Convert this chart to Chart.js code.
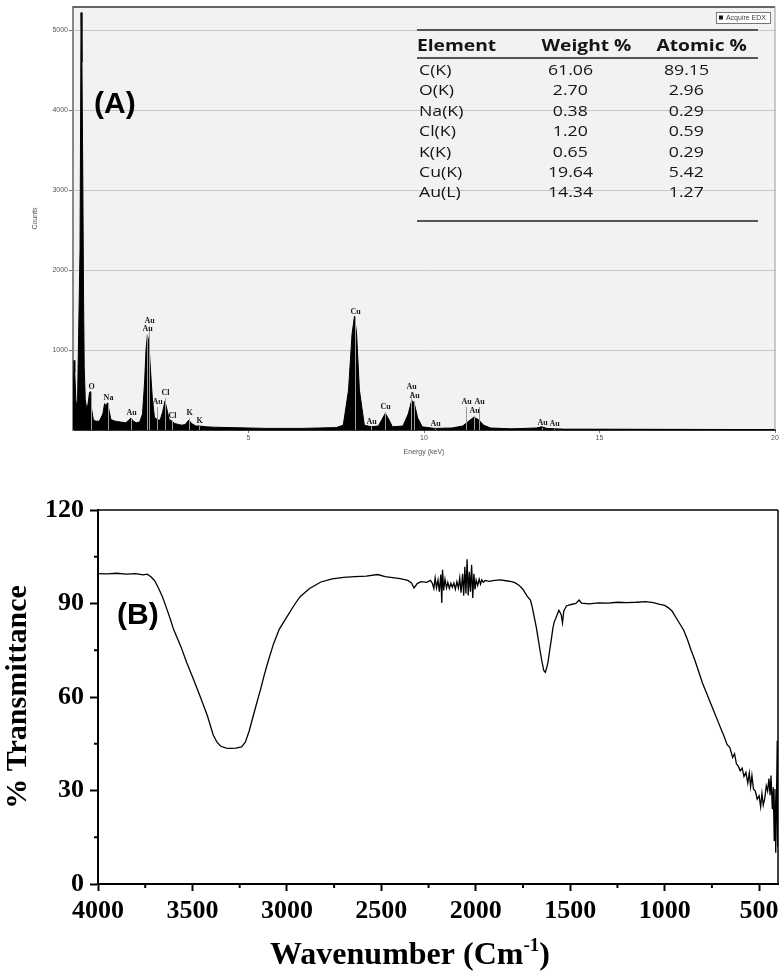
<!DOCTYPE html>
<html>
<head>
<meta charset="utf-8">
<title>EDX and FTIR</title>
<script src="https://cdn.jsdelivr.net/npm/chart.js@4.4.1/dist/chart.umd.min.js"></script>
<style>
    body { margin: 0; background: #fff; }
    #page { position: relative; width: 781px; height: 973px; overflow: hidden; }
    canvas { position: absolute; left: 0; }
    #edxChart { top: 0; }
    #ftirChart { top: 470px; }
    .tag { position: absolute; font: bold 30px 'Liberation Sans', Arial, sans-serif; line-height: 30px; color: #000; }
    #edxTable { position: absolute; left: 417px; top: 29px; width: 341px; height: 189px;
        border-top: 2px solid #555; border-bottom: 2px solid #555; font-family: 'Open Sans', sans-serif; color: #151515; }
    #edxTable .rule { position: absolute; left: 0; right: 0; top: 26px; border-top: 2px solid #555; }
    #edxTable .cell { position: absolute; height: 20px; line-height: 20px; white-space: nowrap; }
    #edxTable .cell span { display: inline-block; }
</style>
</head>
<body>
<div id="page">
    <canvas id="edxChart" width="781" height="465"></canvas>
    <canvas id="ftirChart" width="781" height="503"></canvas>
    <div id="edxTable"><div class="rule"></div></div>
    <div class="tag" style="left:94px; top:88px;">(A)</div>
    <div class="tag" style="left:117px; top:599px;">(B)</div>
</div>
<script>
// ---- (A) EDX spectrum ----
const edxEnergy = [0, 0.03, 0.05, 0.09, 0.13, 0.16, 0.20, 0.23, 0.255, 0.28,
    0.30, 0.32, 0.35, 0.39, 0.43, 0.47, 0.50, 0.53, 0.58, 0.65,
    0.75, 0.85, 0.90, 0.94, 0.98, 1.02, 1.08, 1.20, 1.35, 1.50,
    1.58, 1.65, 1.72, 1.80, 1.90, 1.98, 2.04, 2.08, 2.12, 2.16,
    2.20, 2.26, 2.32, 2.40, 2.48, 2.55, 2.62, 2.68, 2.74, 2.82,
    2.90, 3.00, 3.10, 3.20, 3.30, 3.38, 3.50, 3.60, 3.80, 4.00,
    4.50, 5.00, 5.50, 6.00, 6.50, 7.00, 7.50, 7.70, 7.85, 7.95,
    8.02, 8.08, 8.16, 8.30, 8.50, 8.70, 8.80, 8.90, 9.00, 9.10,
    9.40, 9.55, 9.65, 9.72, 9.82, 9.95, 10.30, 10.80, 11.10, 11.30,
    11.42, 11.55, 11.70, 11.90, 12.50, 13.20, 13.35, 13.50, 14.00, 15.00,
    17.00, 20.00];
const edxCounts = [300, 870, 720, 300, 380, 1180, 2250, 5220, 4600, 3100,
    1690, 780, 380, 260, 330, 470, 480, 260, 130, 110,
    110, 200, 330, 300, 340, 260, 130, 110, 100, 90,
    120, 150, 110, 90, 100, 200, 600, 1000, 1190, 1100,
    800, 400, 160, 130, 120, 220, 360, 250, 130, 110,
    80, 70, 60, 70, 125, 80, 50, 50, 40, 35,
    30, 25, 20, 20, 20, 25, 30, 60, 500, 1200,
    1425, 1200, 500, 60, 40, 50, 130, 210, 130, 40,
    50, 200, 370, 340, 150, 40, 20, 25, 50, 120,
    160, 130, 60, 25, 15, 25, 40, 20, 10, 10,
    8, 5];
const edxTickX = [5, 10, 15, 20];
const edxTickY = [1000, 2000, 3000, 4000, 5000];

const peakNames = ['O', 'Na', 'Au', 'Au', 'Au', 'Au', 'Cl', 'Cl', 'K', 'K',
    'Cu', 'Au', 'Cu', 'Au', 'Au', 'Au', 'Au', 'Au', 'Au', 'Au', 'Au'];
const peakEnergy = [0.50, 1.00, 1.66, 2.17, 2.10, 2.39, 2.63, 2.82, 3.31, 3.59,
    8.02, 8.48, 8.90, 9.63, 9.72, 10.30, 11.20, 11.58, 11.43, 13.35, 13.70];
const peakLabelCounts = [535, 400, 210, 1360, 1260, 350, 460, 180, 210, 110,
    1480, 105, 290, 535, 425, 75, 350, 350, 240, 90, 75];

const tableHead = ['Element', 'Weight %', 'Atomic %'];
const tableElements = ['C(K)', 'O(K)', 'Na(K)', 'Cl(K)', 'K(K)', 'Cu(K)', 'Au(L)'];
const tableWeight = ['61.06', '2.70', '0.38', '1.20', '0.65', '19.64', '14.34'];
const tableAtomic = ['89.15', '2.96', '0.29', '0.59', '0.29', '5.42', '1.27'];

// ---- (B) FTIR spectrum ----
const ftirWavenumber = [4000, 3950, 3900, 3850, 3800, 3760, 3740, 3720, 3700, 3680,
    3660, 3640, 3620, 3600, 3560, 3530, 3500, 3460, 3420, 3390,
    3370, 3350, 3320, 3300, 3270, 3240, 3220, 3200, 3180, 3160,
    3140, 3120, 3100, 3070, 3040, 3000, 2960, 2930, 2880, 2820,
    2760, 2700, 2640, 2580, 2520, 2480, 2440, 2400, 2360, 2340,
    2327, 2310, 2290, 2260, 2240, 2230, 2222, 2215, 2208, 2200,
    2193, 2185, 2180, 2176, 2170, 2163, 2155, 2148, 2140, 2132,
    2124, 2116, 2108, 2100, 2092, 2085, 2078, 2070, 2064, 2058,
    2052, 2046, 2040, 2034, 2028, 2022, 2016, 2010, 2004, 1998,
    1990, 1982, 1975, 1968, 1960, 1950, 1930, 1900, 1870, 1840,
    1810, 1790, 1770, 1750, 1730, 1710, 1700, 1690, 1680, 1670,
    1660, 1650, 1640, 1632, 1625, 1618, 1610, 1600, 1592, 1585,
    1578, 1560, 1548, 1541, 1534, 1520, 1500, 1470, 1453, 1440,
    1400, 1350, 1300, 1250, 1200, 1150, 1100, 1060, 1030, 1000,
    980, 960, 940, 920, 900, 880, 860, 840, 820, 800,
    780, 760, 740, 720, 700, 685, 670, 655, 640, 630,
    620, 610, 600, 590, 580, 570, 560, 552, 545, 538,
    530, 520, 510, 500, 492, 485, 478, 470, 462, 455,
    448, 442, 437, 430, 425, 420, 416, 412, 408, 404,
    402];
const ftirTransmittance = [99.6, 99.5, 99.7, 99.4, 99.6, 99.2, 99.4, 98.6, 97.3, 95.0,
    92.3, 89.0, 85.5, 81.7, 76.0, 71.0, 66.5, 60.3, 53.8, 47.8,
    45.5, 44.2, 43.6, 43.5, 43.6, 44.0, 45.5, 49.0, 53.5, 58.0,
    62.3, 67.0, 71.3, 77.2, 81.8, 85.7, 89.6, 92.2, 94.8, 96.9,
    97.9, 98.4, 98.6, 98.8, 99.3, 98.6, 98.3, 98.0, 97.4, 96.6,
    95.0, 96.4, 97.0, 96.8, 97.4, 96.5, 94.8, 98.2, 95.0, 97.6,
    93.8, 99.3, 90.2, 100.8, 94.2, 97.8, 95.0, 96.8, 94.8, 96.5,
    95.2, 96.6, 94.6, 97.0, 95.0, 98.2, 93.5, 99.5, 92.5, 101.8,
    93.2, 104.2, 92.6, 100.2, 93.8, 102.4, 91.8, 99.5, 94.5, 97.5,
    95.8, 97.8, 96.2, 97.6, 96.8, 97.4, 97.1, 97.4, 97.6, 97.3,
    97.0, 96.6, 95.8, 94.5, 92.5, 91.0, 88.5, 85.5, 82.5, 78.8,
    75.0, 71.5, 68.5, 67.9, 69.3, 71.0, 74.5, 78.5, 82.0, 84.0,
    85.0, 87.8, 86.5, 83.8, 87.6, 89.2, 89.6, 90.0, 91.1, 90.1,
    89.9, 90.2, 90.1, 90.4, 90.3, 90.4, 90.6, 90.3, 89.8, 89.4,
    88.6, 87.5, 85.5, 83.5, 81.5, 78.5, 75.0, 71.8, 68.2, 64.5,
    61.5, 58.5, 55.5, 52.5, 49.5, 47.3, 44.8, 43.8, 40.6, 41.8,
    38.5, 37.8, 36.3, 37.2, 34.5, 35.8, 32.4, 35.6, 31.2, 34.8,
    30.5, 29.8, 27.2, 28.3, 24.8, 29.0, 25.3, 27.5, 31.5, 29.8,
    33.8, 28.5, 34.8, 24.0, 31.0, 14.0, 30.5, 10.0, 27.0, 46.0,
    12.0];
const ftirTickX = [4000, 3500, 3000, 2500, 2000, 1500, 1000, 500];
const ftirMinorX = [3750, 3250, 2750, 2250, 1750, 1250, 750];
const ftirTickY = [0, 30, 60, 90, 120];
const ftirMinorY = [15, 45, 75, 105];

const smallFont = { family: 'Liberation Sans', size: 7 };
const serifTick = { family: 'Liberation Serif', size: 26, weight: 'bold' };
const plainNumber = v => String(v);

// plot background and box lines
const plotFrame = {
    id: 'plotFrame',
    beforeDraw(chart, args, opts) {
        const { ctx, chartArea: a } = chart;
        if (!opts.fill) return;
        ctx.save();
        ctx.fillStyle = opts.fill;
        ctx.fillRect(a.left, a.top, a.right - a.left, a.bottom - a.top);
        ctx.restore();
    },
    afterDraw(chart, args, opts) {
        const { ctx, chartArea: a } = chart;
        ctx.save();
        ctx.strokeStyle = opts.topColor;
        ctx.lineWidth = opts.topWidth;
        ctx.beginPath();
        ctx.moveTo(a.left, a.top);
        ctx.lineTo(a.right, a.top);
        ctx.stroke();
        ctx.strokeStyle = opts.rightColor;
        ctx.lineWidth = opts.rightWidth;
        ctx.beginPath();
        ctx.moveTo(a.right, a.top);
        ctx.lineTo(a.right, a.bottom);
        ctx.stroke();
        ctx.restore();
    }
};

// element markers on the EDX spectrum + the little legend box
const peakLabels = {
    id: 'peakLabels',
    afterDatasetsDraw(chart) {
        const { ctx, scales: { x, y } } = chart;
        const base = y.getPixelForValue(0);
        ctx.save();
        ctx.font = 'bold 8px "Liberation Serif"';
        ctx.textAlign = 'center';
        ctx.textBaseline = 'middle';
        peakNames.forEach((name, i) => {
            const px = Math.round(x.getPixelForValue(peakEnergy[i])) + 0.5;
            const py = y.getPixelForValue(peakLabelCounts[i]);
            ctx.strokeStyle = '#9a9a9a';
            ctx.lineWidth = 1;
            ctx.beginPath();
            ctx.moveTo(px, base);
            ctx.lineTo(px, py + 5);
            ctx.stroke();
            ctx.fillStyle = '#1a1a1a';
            ctx.fillText(name, px, py);
        });
        ctx.restore();
    },
    afterDraw(chart) {
        const { ctx, chartArea: a } = chart;
        const label = 'Acquire EDX';
        ctx.save();
        ctx.font = '7px "Liberation Sans"';
        const w = ctx.measureText(label).width + 14;
        const left = a.right - 5 - w;
        const top = a.top + 5;
        ctx.fillStyle = '#fff';
        ctx.fillRect(left, top, w, 11);
        ctx.strokeStyle = '#777';
        ctx.lineWidth = 1;
        ctx.strokeRect(left + 0.5, top + 0.5, w, 11);
        ctx.fillStyle = '#111';
        ctx.fillRect(left + 3, top + 3.5, 4, 4);
        ctx.fillStyle = '#444';
        ctx.textBaseline = 'middle';
        ctx.fillText(label, left + 10, top + 6);
        ctx.restore();
    }
};

// short minor ticks and the x title with superscript for the FTIR panel
const ftirExtras = {
    id: 'ftirExtras',
    afterDraw(chart) {
        const { ctx, chartArea: a, scales: { x, y } } = chart;
        ctx.save();
        ctx.strokeStyle = '#000';
        ctx.lineWidth = 2;
        ftirMinorX.forEach(v => {
            const px = x.getPixelForValue(v);
            ctx.beginPath();
            ctx.moveTo(px, a.bottom);
            ctx.lineTo(px, a.bottom + 4);
            ctx.stroke();
        });
        ftirMinorY.forEach(v => {
            const py = y.getPixelForValue(v);
            ctx.beginPath();
            ctx.moveTo(a.left, py);
            ctx.lineTo(a.left - 4, py);
            ctx.stroke();
        });

        const main = 'Wavenumber (Cm';
        const sup = '-1';
        const end = ')';
        const bigFont = 'bold 32px "Liberation Serif"';
        const supFont = 'bold 19px "Liberation Serif"';
        ctx.font = bigFont;
        const w1 = ctx.measureText(main).width;
        const w3 = ctx.measureText(end).width;
        ctx.font = supFont;
        const w2 = ctx.measureText(sup).width;
        const cx = 410;
        const baseY = 494;
        let left = cx - (w1 + w2 + w3) / 2;
        ctx.fillStyle = '#000';
        ctx.textBaseline = 'alphabetic';
        ctx.font = bigFont;
        ctx.fillText(main, left, baseY);
        ctx.font = supFont;
        ctx.fillText(sup, left + w1, baseY - 13);
        ctx.font = bigFont;
        ctx.fillText(end, left + w1 + w2, baseY);
        ctx.restore();
    }
};

buildTable();
drawEdx();
drawFtir();

function buildTable() {
    const table = document.getElementById('edxTable');
    const addCell = (text, cx, cy, bold, leftAlign) => {
        const cell = document.createElement('div');
        cell.className = 'cell';
        const span = document.createElement('span');
        span.textContent = text;
        span.style.fontSize = bold ? '16px' : '14.5px';
        span.style.fontWeight = bold ? '700' : '400';
        span.style.transform = bold ? 'scaleX(1.2)' : 'scaleX(1.22)';
        span.style.transformOrigin = leftAlign ? 'left center' : 'center center';
        cell.style.top = (cy - 10) + 'px';
        if (leftAlign) {
            cell.style.left = cx + 'px';
        } else {
            cell.style.left = (cx - 70) + 'px';
            cell.style.width = '140px';
            cell.style.textAlign = 'center';
        }
        cell.appendChild(span);
        table.appendChild(cell);
    };
    addCell(tableHead[0], 0, 14, true, true);
    addCell(tableHead[1], 169, 14, true, false);
    addCell(tableHead[2], 285, 14, true, false);
    for (let i = 0; i < tableElements.length; i++) {
        const cy = 38 + i * 20.4;
        addCell(tableElements[i], 2, cy, false, true);
        addCell(tableWeight[i], 153, cy, false, false);
        addCell(tableAtomic[i], 269, cy, false, false);
    }
}

function drawEdx() {
    const ctx = document.getElementById('edxChart').getContext('2d');
    const points = edxEnergy.map((e, i) => ({ x: e, y: edxCounts[i] }));
    new Chart(ctx, {
        type: 'line',
        data: {
            datasets: [{
                data: points,
                borderColor: '#000',
                backgroundColor: '#000',
                borderWidth: 1,
                fill: 'origin',
                pointRadius: 0,
                tension: 0
            }]
        },
        options: {
            responsive: false,
            animation: false,
            events: [],
            layout: { padding: { top: 7, right: 6, left: 0, bottom: 0 } },
            plugins: {
                legend: { display: false },
                tooltip: { enabled: false },
                plotFrame: { fill: '#f2f2f2', topColor: '#666', topWidth: 2, rightColor: '#999', rightWidth: 1 }
            },
            scales: {
                x: {
                    type: 'linear',
                    min: 0,
                    max: 20,
                    afterBuildTicks: s => { s.ticks = edxTickX.map(v => ({ value: v })); },
                    afterFit: s => { s.height = 35; s.paddingLeft = 0; s.paddingRight = 0; },
                    grid: { drawOnChartArea: false, tickLength: 3, tickColor: '#777' },
                    border: { color: '#333', width: 2 },
                    ticks: { font: smallFont, color: '#555', padding: 1, maxRotation: 0, autoSkip: false, callback: plainNumber },
                    title: { display: true, text: 'Energy (keV)', font: smallFont, color: '#555', padding: { bottom: 9 } }
                },
                y: {
                    min: 0,
                    max: 5290,
                    afterBuildTicks: s => { s.ticks = edxTickY.map(v => ({ value: v })); },
                    afterFit: s => { s.width = 73; },
                    grid: { color: '#c6c6c6', lineWidth: 1, tickLength: 4, tickColor: '#777' },
                    border: { color: '#888', width: 2 },
                    ticks: { font: smallFont, color: '#555', padding: 1, autoSkip: false, callback: plainNumber },
                    title: { display: true, text: 'Counts', font: smallFont, color: '#555', padding: { top: 31 } }
                }
            }
        },
        plugins: [plotFrame, peakLabels]
    });
}

function drawFtir() {
    const ctx = document.getElementById('ftirChart').getContext('2d');
    const points = ftirWavenumber.map((w, i) => ({ x: w, y: ftirTransmittance[i] }));
    new Chart(ctx, {
        type: 'line',
        data: {
            datasets: [{
                data: points,
                borderColor: '#000',
                borderWidth: 1.3,
                fill: false,
                pointRadius: 0,
                tension: 0
            }]
        },
        options: {
            responsive: false,
            animation: false,
            events: [],
            layout: { padding: { top: 40, right: 3, left: 0, bottom: 0 } },
            plugins: {
                legend: { display: false },
                tooltip: { enabled: false },
                plotFrame: { fill: null, topColor: '#000', topWidth: 1.5, rightColor: '#000', rightWidth: 1.5 }
            },
            scales: {
                x: {
                    type: 'linear',
                    reverse: true,
                    min: 400,
                    max: 4000,
                    afterBuildTicks: s => { s.ticks = ftirTickX.map(v => ({ value: v })); },
                    afterFit: s => { s.height = 89; s.paddingLeft = 0; s.paddingRight = 0; },
                    grid: { drawOnChartArea: false, tickLength: 7, tickColor: '#000', tickWidth: 2 },
                    border: { color: '#000', width: 2 },
                    ticks: { font: serifTick, color: '#000', padding: 5, maxRotation: 0, autoSkip: false, callback: plainNumber }
                },
                y: {
                    min: 0,
                    max: 120,
                    afterBuildTicks: s => { s.ticks = ftirTickY.map(v => ({ value: v })); },
                    afterFit: s => { s.width = 98; },
                    grid: { drawOnChartArea: false, tickLength: 8, tickColor: '#000', tickWidth: 2 },
                    border: { color: '#000', width: 2 },
                    ticks: { font: serifTick, color: '#000', padding: 6, autoSkip: false, callback: plainNumber },
                    title: {
                        display: true,
                        text: '% Transmittance',
                        font: { family: 'Liberation Serif', size: 30, weight: 'bold' },
                        color: '#000',
                        padding: { top: 0 }
                    }
                }
            }
        },
        plugins: [plotFrame, ftirExtras]
    });
}
</script>
</body>
</html>
